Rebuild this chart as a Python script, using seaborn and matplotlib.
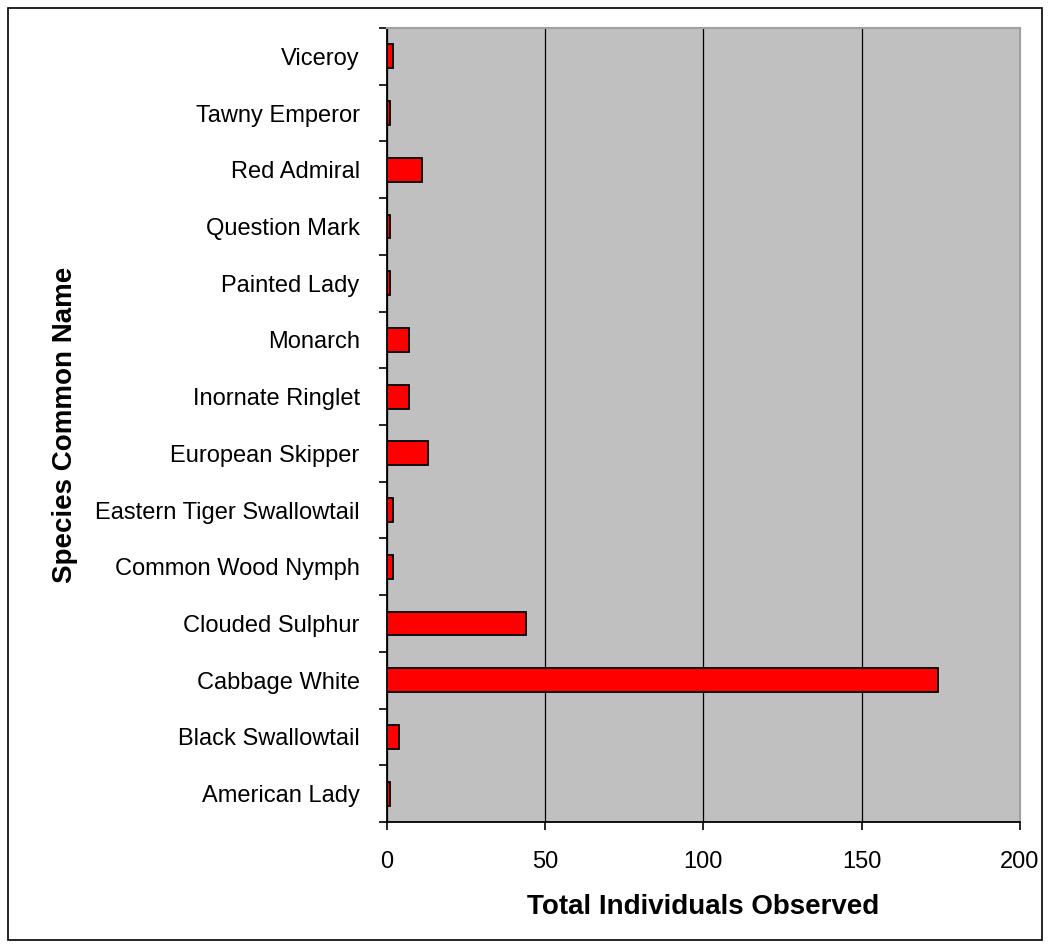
import matplotlib
matplotlib.use("Agg")
import matplotlib.pyplot as plt
from matplotlib.patches import Rectangle
from matplotlib.ticker import FixedLocator
import seaborn as sns
import pandas as pd

species = ['American Lady', 'Black Swallowtail', 'Cabbage White', 'Clouded Sulphur',
           'Common Wood Nymph', 'Eastern Tiger Swallowtail', 'European Skipper',
           'Inornate Ringlet', 'Monarch', 'Painted Lady', 'Question Mark',
           'Red Admiral', 'Tawny Emperor', 'Viceroy']
counts = [1, 4, 174, 44, 2, 2, 13, 7, 7, 1, 1, 11, 1, 2]

df = pd.DataFrame({'species': species, 'count': counts})

sns.set_style('white')
plt.rcParams['font.family'] = ['Liberation Sans', 'DejaVu Sans']
plt.rcParams['text.color'] = 'black'
plt.rcParams['axes.labelcolor'] = 'black'
plt.rcParams['xtick.color'] = 'black'
plt.rcParams['ytick.color'] = 'black'

fig = plt.figure(figsize=(10.5, 9.46), dpi=100)
ax = fig.add_axes([0.3683, 0.1311, 0.6031, 0.8393])

# top of the chart is Viceroy, bottom American Lady
order = species[::-1]
sns.barplot(data=df, y='species', x='count', order=order, orient='h',
            color='#ff0000', edgecolor='black', linewidth=1.3, width=0.42,
            saturation=1, ax=ax, zorder=3)

ax.set_facecolor('#c0c0c0')
ax.set_xlim(0, 200)
ax.set_ylim(len(species) - 0.5, -0.5)
ax.set_xticks([0, 50, 100, 150, 200])
ax.xaxis.grid(True, color='black', linewidth=0.9)
ax.yaxis.grid(False)
ax.set_axisbelow(True)

for side in ['top', 'right']:
    ax.spines[side].set_color('#a0a0a0')
    ax.spines[side].set_linewidth(1.5)
for side in ['left', 'bottom']:
    ax.spines[side].set_color('black')
    ax.spines[side].set_linewidth(1.3)

ax.tick_params(axis='y', which='major', length=0, labelsize=17, pad=19.5)
ax.yaxis.set_minor_locator(FixedLocator([i - 0.5 for i in range(len(species) + 1)]))
ax.tick_params(axis='y', which='minor', left=True, length=5.8, width=1.2,
               color='black', direction='out')
ax.tick_params(axis='x', which='major', bottom=True, length=5.8, width=1.2,
               color='black', direction='out', labelsize=17, pad=15)

ax.set_xlabel('Total Individuals Observed', fontsize=20, fontweight='bold', labelpad=15)
ax.set_ylabel('Species Common Name', fontsize=20, fontweight='bold', labelpad=12)

# outer frame around the whole chart
fig.patches.append(Rectangle((0.008, 0.006), 0.984, 0.986, transform=fig.transFigure,
                             fill=False, edgecolor='black', linewidth=1.2))

fig.savefig('out.png', dpi=100)
